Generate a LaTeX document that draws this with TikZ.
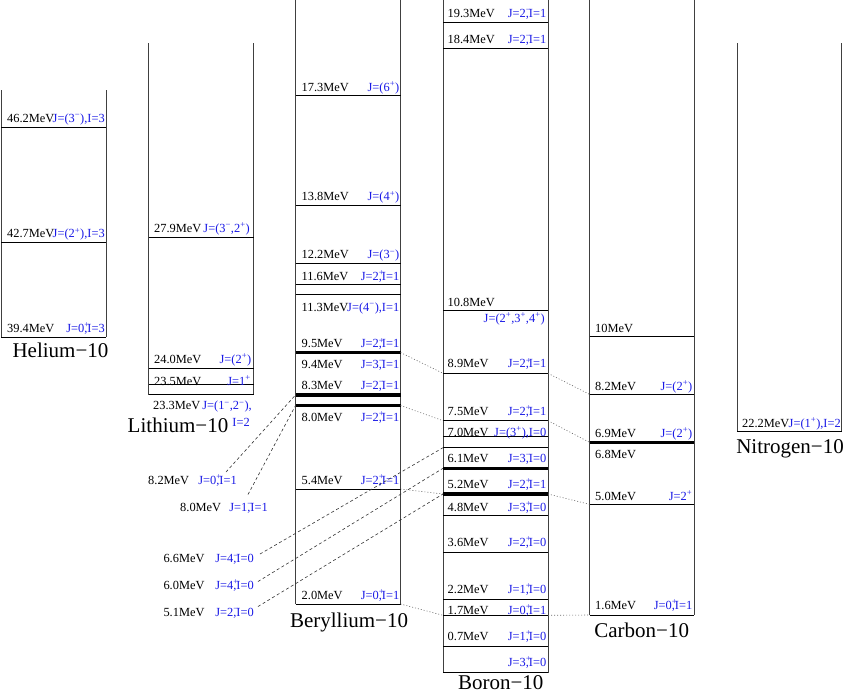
\documentclass[tikz,border=0pt]{standalone}
\usepackage{fontspec}
\setmainfont{Liberation Serif}
\definecolor{jblue}{RGB}{25,25,230}
\newcommand\jp[1]{\rlap{\textsuperscript{#1}}}
\newcommand\js[1]{\textsuperscript{#1}}
\newcommand\lblfont{\fontsize{12.4}{14}\selectfont}
\newcommand\ttlfont{\fontsize{21}{24}\selectfont}
\begin{document}
\begin{tikzpicture}[x=1pt,y=-1pt,
  side/.style={draw=black!75,line width=0.9pt},
  lvl/.style={draw=black,line width=1pt},
  thk/.style={draw=black,line width=3.2pt},
  en/.style={anchor=base west,inner sep=0pt,font=\lblfont,text=black},
  jl/.style={anchor=base east,inner sep=0pt,font=\lblfont,text=jblue},
  ttl/.style={anchor=base,inner sep=0pt,font=\ttlfont,text=black},
  dotc/.style={draw=black!60,line width=0.6pt,dash pattern=on 1pt off 2pt},
  dshc/.style={draw=black!80,line width=0.6pt,dash pattern=on 3pt off 2.5pt}]
\useasboundingbox (0,0) rectangle (845,694);

% ---------------- Helium-10
\draw[side] (1,90) -- (1,337.3) (106,90) -- (106,337.3);
\foreach \y in {127.3,242.7,337.3} \draw[lvl] (1,\y) -- (106,\y);
\node[en] (he1e) at (7,122.3) {46.2MeV};
\node[jl] (he1j) at (105,122.3) {J=(3\js{−}),I=3};
\node[en] (he2e) at (7,237.7) {42.7MeV};
\node[jl] (he2j) at (105,237.7) {J=(2\js{+}),I=3};
\node[en] (he3e) at (7,332.3) {39.4MeV};
\node[jl] (he3j) at (105,332.3) {J=0\jp{+},I=3};
\node[ttl] (het) at (60.5,357.7) {Helium−10};

% ---------------- Lithium-10
\draw[side] (148.5,43) -- (148.5,394.5) (253.5,43) -- (253.5,394.5);
\foreach \y in {237.3,368.3,384,394.5} \draw[lvl] (148.5,\y) -- (253.5,\y);
\node[en] (li1e) at (154,232.3) {27.9MeV};
\node[jl] (li1j) at (250,232.3) {J=(3\js{−},2\js{+})};
\node[en] (li2e) at (154,363.3) {24.0MeV};
\node[jl] (li2j) at (251.5,363.3) {J=(2\js{+})};
\node[en] (li3e) at (154,385) {23.5MeV};
\node[jl] (li3j) at (251,385) {J=1\js{+}};
\node[en] (li4e) at (153,409.5) {23.3MeV};
\node[jl] (li4j) at (252,409.5) {J=(1\js{−},2\js{−}),};
\node[jl] (li4i) at (250,426) {I=2};
\node[ttl] (lit) at (178,432) {Lithium−10};

% ---------------- Beryllium-10
\draw[side] (295.5,0) -- (295.5,604) (400.5,0) -- (400.5,604);
\foreach \y in {95.7,205.7,263.3,284,294.5,489,604} \draw[lvl] (295.5,\y) -- (400.5,\y);
\foreach \y in {352.5,395,405.5} \draw[thk] (295.5,\y) -- (400.5,\y);
\node[en] (be1e) at (301.5,91) {17.3MeV};
\node[jl] (be1j) at (399.5,91) {J=(6\js{+})};
\node[en] (be2e) at (301.5,200.7) {13.8MeV};
\node[jl] (be2j) at (399.5,200.7) {J=(4\js{+})};
\node[en] (be3e) at (301.5,258.8) {12.2MeV};
\node[jl] (be3j) at (399.5,258.8) {J=(3\js{−})};
\node[en] (be4e) at (301.5,280.3) {11.6MeV};
\node[jl] (be4j) at (399.5,280.3) {J=2\jp{+},I=1};
\node[en] (be5e) at (301.5,311) {11.3MeV};
\node[jl] (be5j) at (399.5,311) {J=(4\js{−}),I=1};
\node[en] (be6e) at (301.5,347.8) {9.5MeV};
\node[jl] (be6j) at (399.5,347.8) {J=2\jp{+},I=1};
\node[en] (be7e) at (301.5,368.3) {9.4MeV};
\node[jl] (be7j) at (399.5,368.3) {J=3\jp{−},I=1};
\node[en] (be8e) at (301.5,389) {8.3MeV};
\node[jl] (be8j) at (399.5,389) {J=2\jp{−},I=1};
\node[en] (be9e) at (301.5,421) {8.0MeV};
\node[jl] (be9j) at (399.5,421) {J=2\jp{+},I=1};
\node[en] (be10e) at (301.5,484.3) {5.4MeV};
\node[jl] (be10j) at (399.5,484.3) {J=2\jp{+},I=1};
\node[en] (be11e) at (301.5,599.3) {2.0MeV};
\node[jl] (be11j) at (399.5,599.3) {J=0\jp{+},I=1};
\node[ttl] (bet) at (349,627) {Beryllium−10};
% outside labels (Be)
\node[en] (bx1e) at (148,484.3) {8.2MeV};
\node[jl] (bx1j) at (237,484.3) {J=0\jp{+},I=1};
\node[en] (bx2e) at (180,511) {8.0MeV};
\node[jl] (bx2j) at (268,511) {J=1\jp{−},I=1};

% ---------------- Boron-10
\draw[side] (443,0) -- (443,672.7) (548,0) -- (548,672.7);
\foreach \y in {22.5,48.3,310,373.3,420.7,436.7,447.7,515.7,552.3,599.3,615.3,646.7,672.7} \draw[lvl] (443,\y) -- (548,\y);
\foreach \y in {468.3,494} \draw[thk] (443,\y) -- (548,\y);
\node[en] (b1e) at (447.5,17) {19.3MeV};
\node[jl] (b1j) at (546.5,17) {J=2\jp{−},I=1};
\node[en] (b2e) at (447.5,43.3) {18.4MeV};
\node[jl] (b2j) at (546.5,43.3) {J=2\jp{−},I=1};
\node[en] (b3e) at (447.5,306) {10.8MeV};
\node[jl] (b3j) at (545,322) {J=(2\js{+},3\js{+},4\js{+})};
\node[en] (b4e) at (447.5,367.6) {8.9MeV};
\node[jl] (b4j) at (546.5,367.6) {J=2\jp{+},I=1};
\node[en] (b5e) at (447.5,415) {7.5MeV};
\node[jl] (b5j) at (546.5,415) {J=2\jp{+},I=1};
\node[en] (b6e) at (447.5,436.3) {7.0MeV};
\node[jl] (b6j) at (546.5,436.3) {J=(3\js{+}),I=0};
\node[en] (b7e) at (447.5,462) {6.1MeV};
\node[jl] (b7j) at (546.5,462) {J=3\jp{−},I=0};
\node[en] (b8e) at (447.5,488.3) {5.2MeV};
\node[jl] (b8j) at (546.5,488.3) {J=2\jp{+},I=1};
\node[en] (b9e) at (447.5,511) {4.8MeV};
\node[jl] (b9j) at (546.5,511) {J=3\jp{+},I=0};
\node[en] (b10e) at (447.5,546) {3.6MeV};
\node[jl] (b10j) at (546.5,546) {J=2\jp{+},I=0};
\node[en] (b11e) at (447.5,593.3) {2.2MeV};
\node[jl] (b11j) at (546.5,593.3) {J=1\jp{+},I=0};
\node[en] (b12e) at (447.5,614.3) {1.7MeV};
\node[jl] (b12j) at (546.5,614.3) {J=0\jp{+},I=1};
\node[en] (b13e) at (447.5,640.3) {0.7MeV};
\node[jl] (b13j) at (546.5,640.3) {J=1\jp{+},I=0};
\node[jl] (b14j) at (546.5,666.3) {J=3\jp{+},I=0};
\node[ttl] (bt) at (500.8,689) {Boron−10};
% outside labels (B)
\node[en] (bo1e) at (163.3,562.6) {6.6MeV};
\node[jl] (bo1j) at (254,562.6) {J=4\jp{−},I=0};
\node[en] (bo2e) at (163.3,589.3) {6.0MeV};
\node[jl] (bo2j) at (254,589.3) {J=4\jp{+},I=0};
\node[en] (bo3e) at (163.3,616) {5.1MeV};
\node[jl] (bo3j) at (254,616) {J=2\jp{−},I=0};

% ---------------- Carbon-10
\draw[side] (589.5,0) -- (589.5,615) (694,0) -- (694,615);
\foreach \y in {336.7,394.3,504.3,615} \draw[lvl] (589.5,\y) -- (694,\y);
\draw[thk] (589.5,442.3) -- (694,442.3);
\node[en] (c1e) at (595,332) {10MeV};
\node[en] (c2e) at (595,390) {8.2MeV};
\node[jl] (c2j) at (692.5,390) {J=(2\js{+})};
\node[en] (c3e) at (595,437) {6.9MeV};
\node[jl] (c3j) at (692.5,437) {J=(2\js{+})};
\node[en] (c4e) at (595,458.3) {6.8MeV};
\node[en] (c5e) at (595,500) {5.0MeV};
\node[jl] (c5j) at (692.5,500) {J=2\js{+}};
\node[en] (c6e) at (595,609.3) {1.6MeV};
\node[jl] (c6j) at (692.5,609.3) {J=0\jp{+},I=1};
\node[ttl] (ct) at (641.7,637) {Carbon−10};

% ---------------- Nitrogen-10
\draw[side] (737,43) -- (737,431.7) (841.5,43) -- (841.5,431.7);
\draw[lvl] (737,431.7) -- (841.5,431.7);
\node[en] (n1e) at (742,427) {22.2MeV};
\node[jl] (n1j) at (841,427) {J=(1\js{+}),I=2};
\node[ttl] (nt) at (790,453.7) {Nitrogen−10};

% ---------------- connector end points
\coordinate (beA) at (400.5,352.5);
\coordinate (beB) at (400.5,405.5);
\coordinate (beC) at (400.5,489);
\coordinate (beD) at (400.5,604);
\coordinate (bLA) at (443,373.3);
\coordinate (bLB) at (443,420.7);
\coordinate (bLC) at (443,494);
\coordinate (bLD) at (443,615.3);
\coordinate (bRA) at (548,373.3);
\coordinate (bRB) at (548,420.7);
\coordinate (bRC) at (548,494);
\coordinate (bRD) at (548,615.3);
\coordinate (cA) at (589.5,394.3);
\coordinate (cB) at (589.5,442.3);
\coordinate (cC) at (589.5,504.3);
\coordinate (cD) at (589.5,615);
\coordinate (beL1) at (295.5,395);
\coordinate (beL2) at (295.5,405.5);
\coordinate (bL66) at (443,447.7);
\coordinate (bL60) at (443,468.3);
\coordinate (bL51) at (443,494);
\coordinate (s82) at (226,472);
\coordinate (s80) at (248,494.5);
\coordinate (s66) at (260,554);
\coordinate (s60) at (258,581.5);
\coordinate (s51) at (258,606.5);

\draw[dotc] (beA) -- (bLA);
\draw[dotc] (beB) -- (bLB);
\draw[dotc] (beC) -- (bLC);
\draw[dotc] (beD) -- (bLD);
\draw[dotc] (bRA) -- (cA);
\draw[dotc] (bRB) -- (cB);
\draw[dotc] (bRC) -- (cC);
\draw[dotc] (bRD) -- (cD);

\draw[dshc] (s82) -- (beL1);
\draw[dshc] (s80) -- (beL2);
\draw[dshc] (s66) -- (bL66);
\draw[dshc] (s60) -- (bL60);
\draw[dshc] (s51) -- (bL51);
\end{tikzpicture}
\end{document}
